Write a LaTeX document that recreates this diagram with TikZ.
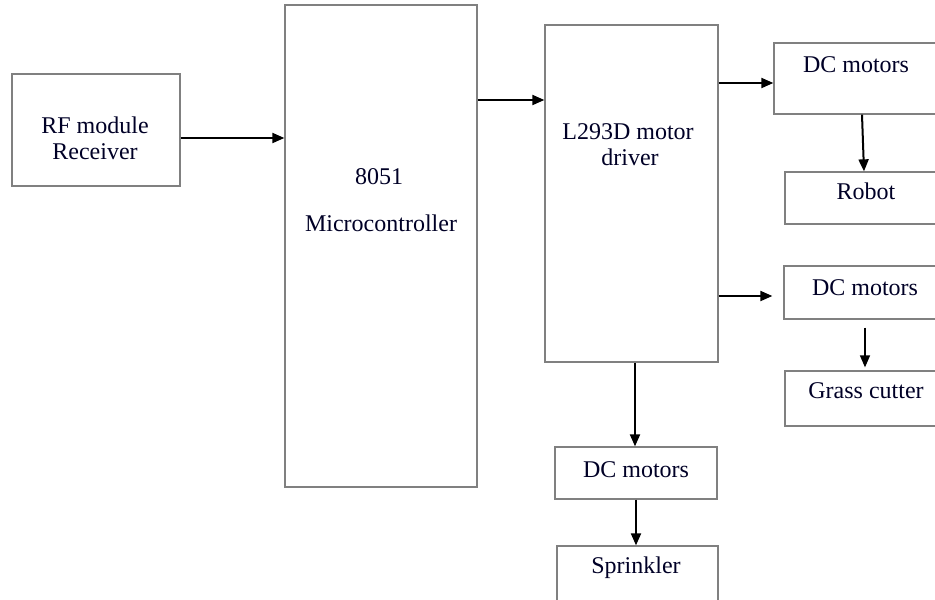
\documentclass[tikz,border=0pt]{standalone}
\usepackage{fontspec}
\setmainfont{Liberation Serif}
\usetikzlibrary{arrows.meta}
\begin{document}
\begin{tikzpicture}[x=1pt,y=-1pt,
  box/.style={draw=black!50,line width=1.3pt,inner sep=0pt,minimum width=#1},
  lbl/.style={font=\fontsize{24}{28}\selectfont,text=black!85!blue,inner sep=0pt,anchor=base},
  arr/.style={draw=black,line width=2pt,-{Triangle[length=12pt,width=10pt]}}]
\useasboundingbox (0,0) rectangle (935,600);
\clip (0,0) rectangle (935,600);
% boxes
\node[box=168pt,minimum height=112pt] (rf) at (96,130) {};
\node[box=192pt,minimum height=482pt] (mcu) at (381,246) {};
\node[box=173pt,minimum height=337pt] (drv) at (631.5,193.5) {};
\node[box=186pt,minimum height=71pt] (dc1) at (867,78.5) {};
\node[box=175pt,minimum height=52pt] (robot) at (872.5,198) {};
\node[box=176pt,minimum height=53pt] (dc2) at (872,292.5) {};
\node[box=175pt,minimum height=55pt] (grass) at (872.5,398.5) {};
\node[box=162pt,minimum height=52pt] (dc3) at (636,473) {};
\node[box=161pt,minimum height=94pt] (spr) at (637.5,593) {};
% texts
\node[lbl] (t1) at (95,133) {RF module};
\node[lbl] (t2) at (95,159) {Receiver};
\node[lbl] (t3) at (379,184) {8051};
\node[lbl] (t4) at (381,231) {Microcontroller};
\node[lbl] (t5) at (628,139) {L293D motor};
\node[lbl] (t6) at (630,165) {driver};
\node[lbl] (t7) at (856,72) {DC motors};
\node[lbl] (t8) at (866,199) {Robot};
\node[lbl] (t9) at (865,295) {DC motors};
\node[lbl] (t10) at (866,398) {Grass cutter};
\node[lbl] (t11) at (636,477) {DC motors};
\node[lbl] (t12) at (636,573) {Sprinkler};
% arrows
\draw[arr] (rf.east |- 0,138) -- (mcu.west |- 0,138);
\draw[arr] (mcu.east |- 0,100) -- (drv.west |- 0,100);
\draw[arr] (drv.east |- 0,83) -- (dc1.west |- 0,83);
\draw[arr,shorten >=11pt] (drv.east |- 0,296) -- (dc2.west |- 0,296);
\draw[arr] (dc1.south -| 862,0) -- (robot.north -| 864,0);
\draw[arr,line width=1.5pt,shorten <=8pt,shorten >=3pt] (dc2.south -| 865,0) -- (grass.north -| 865,0);
\draw[arr] (drv.south -| 635,0) -- (dc3.north -| 635,0);
\draw[arr] (dc3.south -| 636,0) -- (spr.north -| 636,0);
\end{tikzpicture}
\end{document}
